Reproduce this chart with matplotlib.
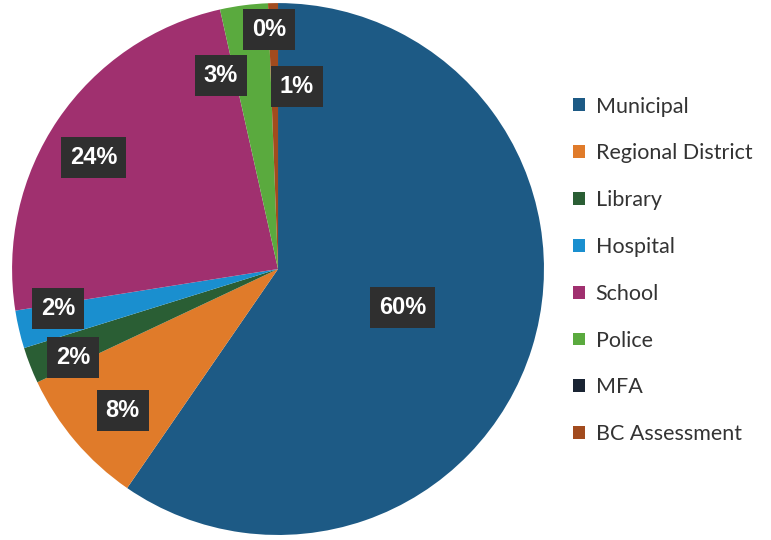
import numpy as np
import matplotlib
matplotlib.use("Agg")
import matplotlib.pyplot as plt

# Data
categories = ["Municipal", "Regional District", "Library", "Hospital",
              "School", "Police", "MFA", "BC Assessment"]
shares = [59.6, 8.4, 2.2, 2.3, 24.0, 2.9, 0.0, 0.6]
colors = ["#1d5a85", "#e07b2a", "#2a5e34", "#1a8fcf",
          "#a0306f", "#5aaa3e", "#1a2433", "#a24b1e"]

# label placement: radius (fraction of pie radius) and angle nudge (deg)
label_r = [0.49, 0.79, 0.84, 0.84, 0.81, 0.76, 0.90, 0.69]
label_nudge = [0, 2, 2, -3, 3, 9, 0, -7]

fig = plt.figure(figsize=(7.71, 5.40), dpi=100)
ax = fig.add_axes([0.0156, 0.0093, 0.690, 0.985])

wedges, _ = ax.pie(shares, colors=colors, startangle=90, counterclock=False,
                   radius=1.0, wedgeprops=dict(linewidth=0))
ax.set_xlim(-1, 1)
ax.set_ylim(-1, 1)
ax.set_aspect("equal")

for w, v, r, nd in zip(wedges, shares, label_r, label_nudge):
    mid = np.deg2rad((w.theta1 + w.theta2) / 2 + nd)
    ax.text(r * np.cos(mid), r * np.sin(mid), f"{v:.0f}%",
            ha="center", va="center", color="white", fontsize=17,
            fontweight="bold", family="Liberation Sans",
            bbox=dict(boxstyle="square,pad=0.38", fc="#2f2f2f", ec="none"))

leg = fig.legend(wedges, categories, loc="upper left",
                 bbox_to_anchor=(0.718, 0.857), frameon=False,
                 prop={"family": "Lato", "size": 15.5},
                 handlelength=0.55, handleheight=0.55, handletextpad=0.5,
                 labelspacing=1.245)
for t in leg.get_texts():
    t.set_color("#333333")

fig.savefig("out.png", dpi=100)
